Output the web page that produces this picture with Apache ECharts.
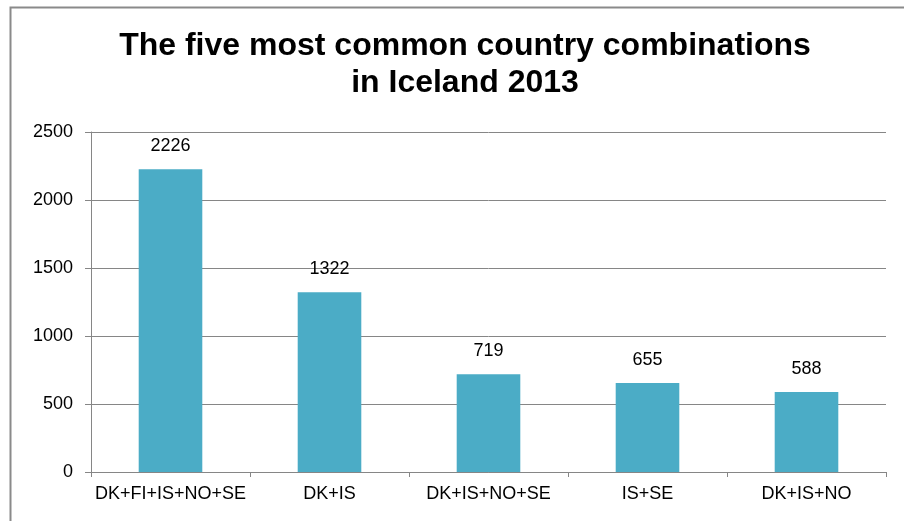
<!DOCTYPE html>
<html lang="en">
<head>
    <meta charset="UTF-8">
    <style>
    html,
    body {
        height: 100%;
        margin: 0;
        background: #fff;
    }
  </style>
</head>
<body>
<div id="chart" style="width:904px;height:521px;"></div>
<script src="https://cdn.jsdelivr.net/npm/echarts@6/dist/echarts.min.js"></script>
<script>
    var categories = ['DK+FI+IS+NO+SE', 'DK+IS', 'DK+IS+NO+SE', 'IS+SE', 'DK+IS+NO'];
    var counts = [2226, 1322, 719, 655, 588];
    var yTicks = [0, 500, 1000, 1500, 2000, 2500];

    var myChart = echarts.init(document.getElementById('chart'));
    myChart.setOption({
        textStyle: { fontFamily: 'Liberation Sans, Arial, sans-serif' },
        animation: false,
        // outer frame of the chart
        graphic: [{
            type: 'rect',
            left: 8, top: 5,
            shape: { width: 1000, height: 1000 },
            style: { fill: 'none', stroke: '#8a8a8a', lineWidth: 2 }
        }],
        title: {
            text: 'The five most common country combinations\nin Iceland 2013',
            left: 460,
            textAlign: 'center',
            top: 23,
            textStyle: {
                fontSize: 32,
                fontWeight: 'bold',
                color: '#000',
                lineHeight: 37
            }
        },
        grid: {
            left: 91,
            right: 18,
            top: 132,
            bottom: 49
        },
        xAxis: {
            type: 'category',
            data: categories,
            axisLine: { lineStyle: { color: '#868686', width: 1 } },
            axisTick: { show: true, length: 5, alignWithLabel: false, lineStyle: { color: '#868686' } },
            axisLabel: { color: '#000', fontSize: 18, margin: 13, interval: 0 }
        },
        yAxis: {
            type: 'value',
            min: yTicks[0],
            max: yTicks[yTicks.length - 1],
            interval: 500,
            axisLine: { show: true, lineStyle: { color: '#868686', width: 1 } },
            axisTick: { show: true, length: 6, lineStyle: { color: '#868686' } },
            splitLine: { lineStyle: { color: '#868686', width: 1 } },
            axisLabel: { color: '#000', fontSize: 18, margin: 18, formatter: function (v) { return String(v); } }
        },
        series: [{
            type: 'bar',
            data: counts,
            barWidth: '40%',
            itemStyle: { color: '#4bacc6' },
            label: {
                show: true,
                position: 'top',
                distance: 14,
                color: '#000',
                fontSize: 18
            }
        }]
    });
</script>
</body>
</html>
